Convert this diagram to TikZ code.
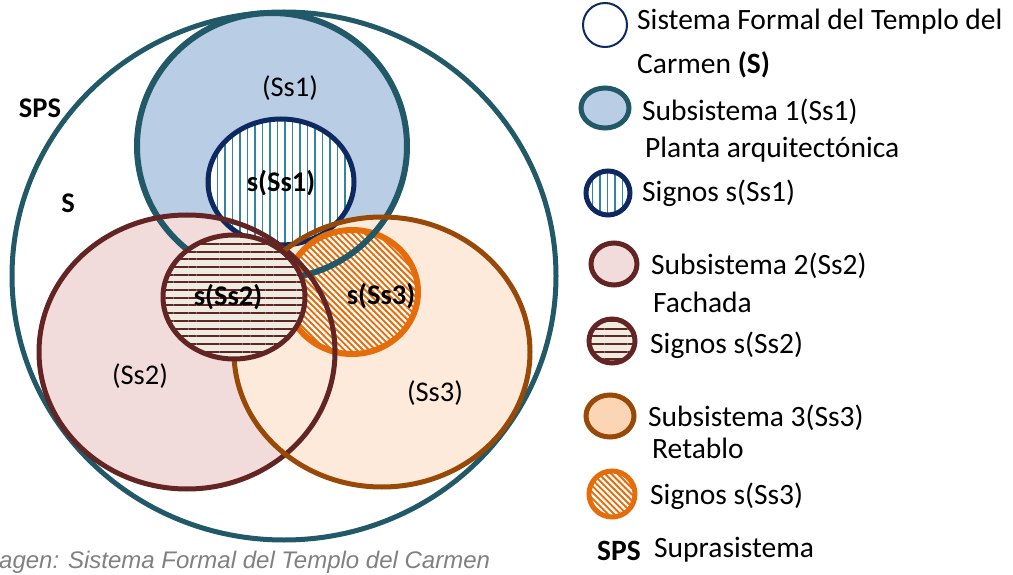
\documentclass[tikz,border=0pt]{standalone}
\usepackage{fontspec}
\setmainfont{Carlito}
\newfontfamily\captionfont{Liberation Sans}
\usetikzlibrary{patterns.meta}
\definecolor{tealline}{HTML}{215968}
\definecolor{skyfill}{HTML}{B9CDE5}
\definecolor{navyline}{HTML}{0E2862}
\definecolor{tealhatch}{HTML}{31859C}
\definecolor{wineline}{HTML}{632523}
\definecolor{rosefill}{HTML}{F2DCDB}
\definecolor{creamfill}{HTML}{EEECE1}
\definecolor{rustline}{HTML}{984807}
\definecolor{peachfill}{HTML}{FDEADA}
\definecolor{peachkey}{HTML}{FCD5B5}
\definecolor{orangeline}{HTML}{E46C0A}

\begin{document}
\begin{tikzpicture}[x=1pt, y=-1pt, font=\fontsize{28.5}{30}\selectfont]
\tikzstyle{label} = [inner sep=0pt]
\tikzstyle{keytext} = [inner sep=0pt, anchor=west, font=\fontsize{29.5}{31}\selectfont]
\tikzstyle{vlines} = [pattern={Lines[angle=90, distance=7.5pt, line width=1.6pt]}, pattern color=tealhatch]
\tikzstyle{hlines} = [pattern={Lines[angle=0, distance=7.7pt, line width=2pt]}, pattern color=wineline]
\tikzstyle{slines} = [pattern={Lines[angle=-45, distance=4.4pt, line width=2.2pt]}, pattern color=white]

\useasboundingbox (0,0) rectangle (1013,575);

% sistema formal
\draw[tealline, line width=5pt, fill=white] (284,276) ellipse [x radius=272, y radius=264];

% subsistemas, relleno
\fill[skyfill] (272,146) ellipse [x radius=135, y radius=133];
\fill[rosefill] (187,352) ellipse [x radius=148, y radius=137];
\fill[peachfill] (382,352) ellipse [x radius=148, y radius=135];

% signos Ss1 y Ss3
\draw[navyline, line width=5pt, preaction={fill=white}, vlines] (281,182) ellipse [x radius=73, y radius=63];
\draw[orangeline, line width=6pt, preaction={fill=orangeline}, slines] (352,292) ellipse [x radius=66, y radius=62];

% subsistemas, contorno
\draw[tealline, line width=6pt] (272,146) ellipse [x radius=135, y radius=133];
\draw[wineline, line width=5pt] (187,352) ellipse [x radius=148, y radius=137];
\draw[rustline, line width=5pt] (382,352) ellipse [x radius=148, y radius=135];

% signos Ss2
\draw[wineline, line width=5pt, preaction={fill=creamfill}, hlines] (234,297) ellipse [x radius=71, y radius=62];

\node[label] (sps) at (40,108) {\bfseries SPS};
\node[label] (s) at (68,203) {\bfseries S};
\node[label] (ss1) at (290,88) {(Ss1)};
\node[label] (sss1) at (281,183) {\bfseries s(Ss1)};
\node[label] (sss2) at (228,297) {\bfseries s(Ss2)};
\node[label] (sss3) at (381,296) {\bfseries s(Ss3)};
\node[label] (ss2) at (140,376) {(Ss2)};
\node[label] (ss3) at (435,393) {(Ss3)};

% leyenda
\draw[navyline, line width=2pt, fill=white] (605,25) ellipse [x radius=22, y radius=22];
\draw[tealline, line width=5pt, fill=skyfill] (605,108) ellipse [x radius=24, y radius=20];
\draw[navyline, line width=5pt, preaction={fill=white}, vlines] (608,193) ellipse [x radius=22, y radius=22];
\draw[wineline, line width=5pt, fill=rosefill] (614,264) ellipse [x radius=23, y radius=21];
\draw[wineline, line width=5pt, preaction={fill=creamfill}, hlines] (612,341) ellipse [x radius=23, y radius=22];
\draw[rustline, line width=5pt, fill=peachkey] (610,416) ellipse [x radius=24, y radius=21];
\draw[orangeline, line width=5pt, preaction={fill=orangeline}, slines] (612,494) ellipse [x radius=23, y radius=23];

\node[keytext] (key1) at (637,22) {Sistema Formal del Templo del};
\node[keytext] (key1b) at (637,65) {Carmen \textbf{(S)}};
\node[keytext] (key2) at (642,112) {Subsistema 1(Ss1)};
\node[keytext] (key2b) at (645,150) {Planta arquitectónica};
\node[keytext] (key3) at (642,193) {Signos s(Ss1)};
\node[keytext] (key4) at (651,266) {Subsistema 2(Ss2)};
\node[keytext] (key4b) at (653,302) {Fachada};
\node[keytext] (key5) at (650,345) {Signos s(Ss2)};
\node[keytext] (key6) at (648,418) {Subsistema 3(Ss3)};
\node[keytext] (key6b) at (652,448) {Retablo};
\node[keytext] (key7) at (650,496) {Signos s(Ss3)};
\node[keytext] (key8) at (597,551) {\bfseries SPS};
\node[keytext] (key8b) at (654,550) {Suprasistema};

\node[keytext, font=\captionfont\itshape\fontsize{24}{26}\selectfont, text=gray] (caption) at (-1,562) {agen: Sistema Formal del Templo del Carmen};
\end{tikzpicture}
\end{document}
